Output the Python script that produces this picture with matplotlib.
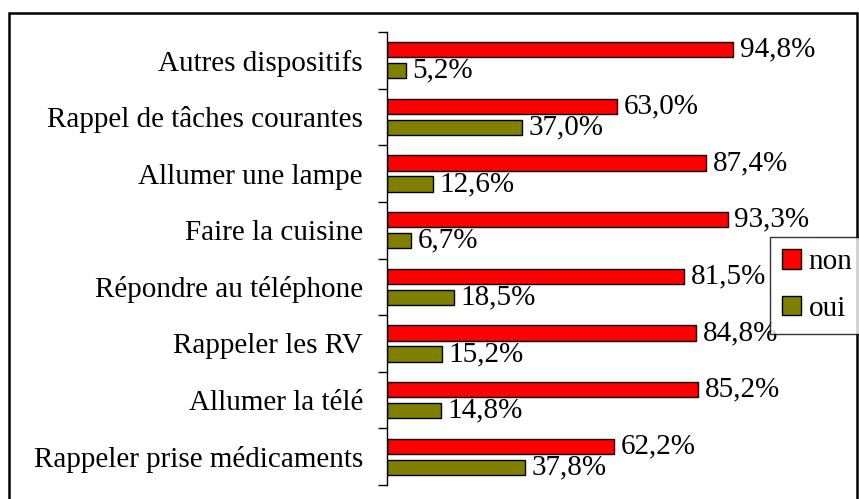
import numpy as np
import matplotlib
matplotlib.use("Agg")
import matplotlib.pyplot as plt
from matplotlib.patches import Rectangle

plt.rcParams['font.family'] = ['Liberation Serif', 'DejaVu Serif']

# categories from top to bottom
categories = ['Autres dispositifs', 'Rappel de tâches courantes', 'Allumer une lampe',
              'Faire la cuisine', 'Répondre au téléphone', 'Rappeler les RV',
              'Allumer la télé', 'Rappeler prise médicaments']
non = [94.8, 63.0, 87.4, 93.3, 81.5, 84.8, 85.2, 62.2]
oui = [5.2, 37.0, 12.6, 6.7, 18.5, 15.2, 14.8, 37.8]

W, H = 859, 499
fig = plt.figure(figsize=(W / 100, H / 100), dpi=100)
ax = fig.add_axes([386.5 / W, 1 - 485 / H, (752 - 386.5) / W, (485 - 32) / H])

y = np.arange(len(categories))
h = 0.27
off = 0.185
ax.barh(y - off, non, height=h, color='#FF0000', edgecolor='black', linewidth=1, label='non')
ax.barh(y + off, oui, height=h, color='#808000', edgecolor='black', linewidth=1, label='oui')

fs = 21
for i in range(len(categories)):
    ax.text(non[i] + 1.8, y[i] - off, f"{non[i]:.1f}%".replace('.', ','),
            va='center', ha='left', fontsize=fs, clip_on=False)
    ax.text(oui[i] + 1.8, y[i] + off, f"{oui[i]:.1f}%".replace('.', ','),
            va='center', ha='left', fontsize=fs, clip_on=False)

ax.set_xlim(0, 100)
ax.set_ylim(len(categories) - 0.5, -0.5)
ax.set_xticks([])
ax.set_yticks(np.arange(-0.5, len(categories)), minor=False)
ax.set_yticklabels([])
ax.set_yticks(y, minor=True)
ax.set_yticklabels(categories, minor=True, fontsize=fs)
ax.tick_params(axis='y', which='major', length=6.5, width=1, direction='out')
ax.tick_params(axis='y', which='minor', length=0, pad=17)
for s in ['top', 'right', 'bottom']:
    ax.spines[s].set_visible(False)
ax.spines['left'].set_linewidth(1)

leg = fig.legend(loc='upper left', bbox_to_anchor=(770 / W, 1 - 237 / H),
                 fontsize=fs, frameon=True, fancybox=False, edgecolor='black',
                 handlelength=0.65, handleheight=0.65, handletextpad=0.25,
                 borderpad=0.42, labelspacing=0.7, borderaxespad=0)
leg.get_frame().set_linewidth(1)

# outer border of the chart
fig.patches.append(Rectangle((9 / W, -0.05), (857 - 9) / W, 1 - 13 / H + 0.05,
                             transform=fig.transFigure, fill=False,
                             edgecolor='black', linewidth=1.8, clip_on=False))

fig.savefig('out.png', dpi=100)
